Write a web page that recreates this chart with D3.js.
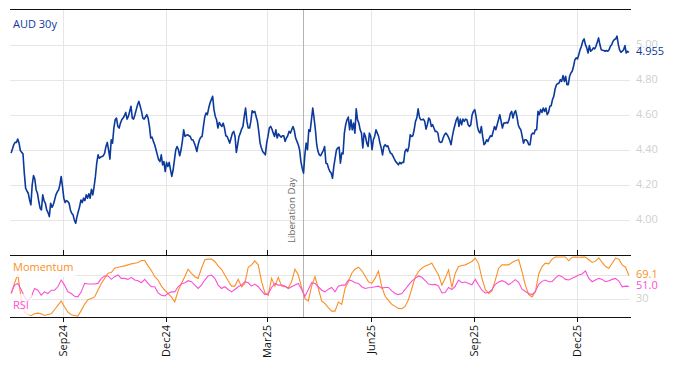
<!DOCTYPE html>
<html>
<head>
<meta charset="utf-8">
<script src="https://cdn.jsdelivr.net/npm/d3@7"></script>
<style>
  html, body { margin: 0; padding: 0; background: #fff; }
  svg { display: block; font-family: "Open Sans", sans-serif; }
</style>
</head>
<body>
<svg id="chart"></svg>
<script>
// first and last observation, points are evenly spread between them
const seriesStart = "2024-07-17";
const seriesEnd = "2026-01-16";

const aud30y = [
  4.381, 4.405, 4.429, 4.442, 4.442, 4.461, 4.438, 4.396, 4.385, 4.377, 4.267, 4.181, 4.165, 4.152, 4.114, 4.086,
  4.200, 4.253, 4.232, 4.171, 4.152, 4.105, 4.067, 4.057, 4.143, 4.110, 4.095, 4.057, 4.042, 4.019, 4.095, 4.072,
  4.086, 4.114, 4.143, 4.160, 4.171, 4.200, 4.248, 4.190, 4.124, 4.099, 4.110, 4.105, 4.095, 4.057, 4.038, 4.029,
  4.000, 3.981, 4.019, 4.048, 4.076, 4.114, 4.099, 4.124, 4.110, 4.143, 4.124, 4.149, 4.124, 4.175, 4.143, 4.190,
  4.248, 4.324, 4.371, 4.352, 4.358, 4.362, 4.366, 4.381, 4.419, 4.442, 4.400,
  4.347, 4.457, 4.438, 4.524, 4.571, 4.581, 4.533, 4.524, 4.552, 4.571, 4.581, 4.594, 4.613, 4.575, 4.590, 4.619,
  4.648, 4.581, 4.575, 4.600, 4.629, 4.657, 4.676, 4.648, 4.619, 4.581, 4.575, 4.587, 4.600, 4.581, 4.533, 4.467,
  4.472, 4.448, 4.429, 4.400, 4.371, 4.343, 4.333, 4.371, 4.314, 4.333, 4.276, 4.328, 4.305, 4.328, 4.286, 4.248,
  4.286, 4.343, 4.400, 4.419, 4.400, 4.366, 4.400, 4.448, 4.514, 4.476, 4.482, 4.486, 4.480, 4.476, 4.457, 4.457,
  4.440, 4.419, 4.390, 4.429, 4.457, 4.472, 4.476, 4.533, 4.587, 4.610, 4.600, 4.638, 4.667, 4.686, 4.705, 4.629,
  4.590, 4.571, 4.524, 4.556, 4.543, 4.533, 4.552, 4.524, 4.480, 4.476, 4.457, 4.438, 4.467, 4.495, 4.505, 4.476,
  4.385, 4.429, 4.476, 4.495, 4.518, 4.533, 4.590, 4.638, 4.562, 4.524, 4.524, 4.562, 4.623, 4.613, 4.619, 4.590,
  4.562, 4.505, 4.438, 4.410, 4.390, 4.381, 4.371, 4.438, 4.476, 4.524, 4.533, 4.518, 4.495, 4.476, 4.514, 4.467,
  4.491, 4.480, 4.472, 4.480, 4.480, 4.448, 4.467, 4.480, 4.505, 4.495, 4.514, 4.533, 4.510, 4.467, 4.448, 4.429,
  4.400, 4.333, 4.295, 4.267, 4.371, 4.438, 4.400, 4.514, 4.505, 4.571, 4.638, 4.581, 4.514, 4.429, 4.390,
  4.371, 4.366, 4.381, 4.396, 4.419, 4.324, 4.320, 4.295, 4.276, 4.267, 4.238, 4.305, 4.352, 4.400, 4.410, 4.415,
  4.324, 4.381, 4.377, 4.495, 4.543, 4.571, 4.587, 4.514, 4.571, 4.514, 4.552, 4.495, 4.634, 4.571, 4.552, 4.514,
  4.495, 4.410, 4.495, 4.476, 4.438, 4.419, 4.495, 4.476, 4.400, 4.457, 4.476, 4.514, 4.495, 4.476, 4.438, 4.410,
  4.371, 4.419, 4.429, 4.419, 4.423, 4.400, 4.381, 4.377, 4.362, 4.347, 4.333, 4.324, 4.314, 4.328, 4.320, 4.328,
  4.328, 4.390, 4.404, 4.390, 4.419, 4.486, 4.476, 4.480, 4.514, 4.562, 4.581, 4.634, 4.587, 4.571, 4.571,
  4.575, 4.562, 4.518, 4.543, 4.581, 4.571, 4.533, 4.543, 4.524, 4.505, 4.505, 4.495, 4.448, 4.442, 4.444, 4.467,
  4.486, 4.495, 4.486, 4.472, 4.453, 4.429, 4.476, 4.514, 4.543, 4.571, 4.587, 4.533, 4.575, 4.543, 4.575, 4.562,
  4.575, 4.571, 4.543, 4.533, 4.543, 4.600, 4.619, 4.629, 4.590, 4.533, 4.505, 4.495, 4.533, 4.476, 4.429, 4.438,
  4.457, 4.448, 4.467, 4.480, 4.476, 4.505, 4.533, 4.514, 4.543, 4.571, 4.600, 4.562, 4.524, 4.552, 4.552, 4.556,
  4.552, 4.571, 4.606, 4.619, 4.581, 4.610, 4.623, 4.590, 4.543, 4.524, 4.514, 4.476, 4.438, 4.457,
  4.457, 4.448, 4.429, 4.429, 4.486, 4.495, 4.491, 4.514, 4.514, 4.619, 4.600, 4.629, 4.613, 4.638, 4.619, 4.638,
  4.600, 4.613, 4.648, 4.651, 4.686, 4.705, 4.747, 4.771, 4.777, 4.781, 4.800, 4.790, 4.823, 4.790, 4.819, 4.771,
  4.771, 4.819, 4.838, 4.848, 4.876, 4.914, 4.924, 4.918, 4.943, 4.971, 4.990, 5.019, 5.032, 5.000, 4.981, 4.952,
  4.994, 4.962, 4.968, 4.981, 4.975, 4.990, 5.013, 5.038, 5.000, 4.971, 4.968, 4.966, 4.962, 4.966, 4.962, 4.971,
  4.990, 5.000, 5.019, 5.029, 5.032, 5.048, 5.000, 4.968, 4.956, 4.962, 4.971, 4.994, 4.952, 4.962, 4.955,
];

const momentum = [
  39.1, 56.0, 71.7, 30.7, 8.2, 4.2, 2.5, 5.3, 6.5, 5.3, 2.5, 4.2, 5.3, 12.1, 19.4, 26.7, 16.6, 8.2, 3.7, 2.5,
  1.4, 11.0, 21.1, 29.0, 30.7, 33.5, 44.7, 56.0, 64.4, 72.9, 74.0, 81.3, 83.0, 84.1, 85.2, 86.9, 88.6, 89.7, 90.9, 94.2,
  94.2, 85.2, 77.4, 67.2, 61.6, 51.5, 44.7, 39.1, 33.5, 25.0, 43.6, 56.0, 67.2, 79.6, 72.9, 67.2, 64.4, 81.3, 95.4, 96.5,
  96.5, 92.5, 85.2, 79.6, 70.0, 60.5, 51.5, 51.5, 62.7, 50.4, 56.0, 83.0, 86.9, 93.7, 86.9, 58.8, 40.2, 36.3, 64.4, 51.5,
  66.1, 51.5, 50.4, 48.7, 58.8, 79.6, 70.0, 49.2, 30.7, 26.7, 51.5, 67.2, 47.5, 26.7, 22.2, 15.5,
  9.8, 9.8, 25.0, 21.1, 47.5, 58.8, 72.9, 79.6, 83.0, 77.4, 68.4, 58.8, 56.0, 64.4, 76.8, 50.4, 34.6, 27.8, 21.1, 17.7,
  14.3, 13.8, 17.7, 29.0, 47.5, 66.1, 75.7, 81.3, 85.2, 86.9, 89.7, 79.6, 70.0, 53.2, 64.4, 78.5, 49.2, 72.9, 84.1, 85.8,
  86.9, 89.7, 92.5, 98.2, 88.6, 64.4, 45.9, 39.1, 43.6, 61.6, 81.3, 86.9, 86.9, 86.9, 90.9, 93.7, 95.4, 75.7, 53.2, 37.4,
  33.5, 41.9, 71.7, 84.1, 89.7, 88.6, 96.5, 99.8, 100, 100, 100, 93.7, 99.7, 100, 99.7, 100, 99.8, 95.4, 90.9, 93.1,
  98.6, 90.9, 84.1, 81.3, 89.7, 98.2, 96.5, 86.9, 83.0, 69.1,
];

const rsi = [
  39.1, 53.2, 56.0, 45.9, 33.5, 26.7, 33.5, 47.5, 44.7, 36.3, 41.9, 39.1, 44.7, 44.7, 50.4, 61.6, 53.2, 41.9, 39.1, 34.6,
  33.5, 41.9, 56.0, 54.9, 54.9, 54.9, 56.0, 64.4, 68.4, 68.4, 62.7, 67.2, 70.0, 64.4, 64.4, 62.7, 66.1, 61.6, 60.5, 57.1,
  62.7, 56.0, 50.4, 50.4, 40.2, 36.3, 35.2, 39.1, 41.9, 41.9, 50.4, 54.9, 57.1, 60.5, 58.8, 53.2, 47.5, 53.2, 61.6, 68.4,
  70.0, 64.4, 53.2, 47.5, 50.4, 45.9, 41.9, 45.9, 50.4, 53.2, 58.8, 57.1, 51.5, 54.9, 50.4, 43.6, 37.4, 39.1, 49.2, 56.0,
  53.2, 53.2, 51.5, 47.5, 50.4, 53.2, 56.0, 45.9, 34.6, 45.9, 57.1, 56.0, 50.4, 44.7, 41.9, 46.4,
  49.2, 41.9, 51.5, 53.2, 53.2, 61.6, 60.5, 57.1, 56.0, 50.4, 47.5, 48.7, 49.2, 50.4, 51.5, 48.1, 49.2, 49.2, 43.6, 39.1,
  37.4, 39.1, 45.9, 53.2, 59.9, 64.4, 68.4, 66.1, 60.5, 54.9, 53.7, 54.3, 51.5, 40.2, 40.8, 49.2, 45.9, 51.5, 61.6, 57.1,
  58.2, 56.0, 53.7, 62.7, 53.2, 44.7, 40.2, 40.8, 45.9, 54.3, 58.2, 60.5, 58.2, 53.7, 57.7, 62.2, 57.7, 46.4, 42.5, 39.1,
  37.4, 42.5, 54.3, 59.4, 61.6, 58.8, 58.8, 64.9, 69.5, 67.2, 62.7, 61.6, 64.4, 67.2, 70.0, 71.7, 76.8, 64.4, 58.8, 61.6,
  64.4, 62.7, 58.8, 60.5, 62.7, 64.4, 59.9, 50.4, 51.5, 51.0,
];

const priceTicks = [4.0, 4.2, 4.4, 4.6, 4.8, 5.0];
const oscGrid = [30, 70];
const oscLabels = [30];
const monthTicks = ["2024-09-01", "2024-12-01", "2025-03-01", "2025-06-01", "2025-09-01", "2025-12-01"];
const events = [{ date: "2025-04-02", label: "Liberation Day" }];

const colors = {
  price: "#0b399c",
  momentum: "#fb8f24",
  rsi: "#fb4fd6",
  grid: "#e6e6e6",
  axisText: "#cfcfcf",
  event: "#b4b4b4",
};

const width = 674;
const height = 366;
const plot = { left: 10, right: 630, top: 9, mid: 255, bottom: 317 };

const svg = d3.select("#chart").attr("width", width).attr("height", height);
const parse = d3.utcParse("%Y-%m-%d");

function spreadDates(n) {
  const t0 = +parse(seriesStart);
  const t1 = +parse(seriesEnd);
  return d3.range(n).map((i) => new Date(t0 + (i * (t1 - t0)) / (n - 1)));
}

const x = d3.scaleUtc()
  .domain([parse("2024-07-16"), parse("2026-01-17")])
  .range([plot.left, plot.right]);
const yPrice = d3.scaleLinear().domain([3.8, 5.2]).range([plot.mid, plot.top + 0.5]);
const yOsc = d3.scaleLinear().domain([0, 100]).range([plot.bottom, plot.mid + 2]);

const priceData = spreadDates(aud30y.length).map((d, i) => ({ date: d, value: aud30y[i] }));
const momData = spreadDates(momentum.length).map((d, i) => ({ date: d, value: momentum[i] }));
const rsiData = spreadDates(rsi.length).map((d, i) => ({ date: d, value: rsi[i] }));
const tickDates = monthTicks.map(parse);

const gridLayer = svg.append("g");
const eventLayer = svg.append("g");
const lineLayer = svg.append("g");
const labelLayer = svg.append("g");
const axisLayer = svg.append("g");

// grid
gridLayer.selectAll("line.h")
  .data(priceTicks)
  .join("line")
  .attr("class", "h")
  .attr("x1", plot.left).attr("x2", plot.right)
  .attr("y1", (d) => Math.round(yPrice(d)) + 0.5)
  .attr("y2", (d) => Math.round(yPrice(d)) + 0.5)
  .attr("stroke", colors.grid);

gridLayer.selectAll("line.o")
  .data(oscGrid)
  .join("line")
  .attr("class", "o")
  .attr("x1", plot.left).attr("x2", plot.right)
  .attr("y1", (d) => Math.round(yOsc(d)) + 0.5)
  .attr("y2", (d) => Math.round(yOsc(d)) + 0.5)
  .attr("stroke", colors.grid);

gridLayer.selectAll("line.v")
  .data(tickDates)
  .join("line")
  .attr("class", "v")
  .attr("x1", (d) => Math.round(x(d)) + 0.5)
  .attr("x2", (d) => Math.round(x(d)) + 0.5)
  .attr("y1", plot.top).attr("y2", plot.bottom)
  .attr("stroke", colors.grid);

// event marker
events.forEach((ev) => {
  const ex = Math.round(x(parse(ev.date))) + 0.5;
  eventLayer.append("line")
    .attr("x1", ex).attr("x2", ex)
    .attr("y1", plot.top).attr("y2", plot.bottom)
    .attr("stroke", colors.event);
  eventLayer.append("text")
    .attr("transform", `translate(${ex - 9},${plot.mid - 12}) rotate(-90)`)
    .attr("font-size", 9.7)
    .attr("fill", "#6b6b6b")
    .text(ev.label);
});

// lines
const priceLine = d3.line().x((d) => x(d.date)).y((d) => yPrice(d.value));
const oscLine = d3.line().x((d) => x(d.date)).y((d) => yOsc(d.value));

lineLayer.append("path")
  .datum(momData)
  .attr("d", oscLine)
  .attr("fill", "none")
  .attr("stroke", colors.momentum)
  .attr("stroke-width", 1.1);

lineLayer.append("path")
  .datum(rsiData)
  .attr("d", oscLine)
  .attr("fill", "none")
  .attr("stroke", colors.rsi)
  .attr("stroke-width", 1.1);

lineLayer.append("path")
  .datum(priceData)
  .attr("d", priceLine)
  .attr("fill", "none")
  .attr("stroke", colors.price)
  .attr("stroke-width", 1.6)
  .attr("stroke-linejoin", "round");

// panel labels with a light backing
function panelLabel(text, px, py, color, alpha) {
  const g = labelLayer.append("g");
  const t = g.append("text")
    .attr("x", px).attr("y", py)
    .attr("font-size", 11)
    .attr("fill", color)
    .attr("dominant-baseline", "middle")
    .text(text);
  const bb = t.node().getBBox();
  g.insert("rect", "text")
    .attr("x", bb.x - 3).attr("y", bb.y - 3)
    .attr("width", bb.width + 6).attr("height", bb.height + 6)
    .attr("fill", "#fff")
    .attr("fill-opacity", alpha);
}
panelLabel("AUD 30y", 13, 25, colors.price, 1);
panelLabel("Momentum", 13, 268, colors.momentum, 0.85);
panelLabel("RSI", 13, 306, colors.rsi, 0.75);

// right side values
const rightX = plot.right + 6;
axisLayer.selectAll("text.p")
  .data(priceTicks)
  .join("text")
  .attr("class", "p")
  .attr("x", rightX)
  .attr("y", (d) => yPrice(d))
  .attr("dominant-baseline", "middle")
  .attr("font-size", 11)
  .attr("fill", colors.axisText)
  .text((d) => d.toFixed(2));

axisLayer.selectAll("text.o")
  .data(oscLabels)
  .join("text")
  .attr("class", "o")
  .attr("x", rightX)
  .attr("y", (d) => yOsc(d))
  .attr("dominant-baseline", "middle")
  .attr("font-size", 11)
  .attr("fill", colors.axisText)
  .text((d) => d);

const lastValues = [
  { y: yPrice(aud30y[aud30y.length - 1]), text: aud30y[aud30y.length - 1].toFixed(3), color: colors.price },
  { y: yOsc(momentum[momentum.length - 1]), text: momentum[momentum.length - 1].toFixed(1), color: colors.momentum },
  { y: yOsc(rsi[rsi.length - 1]), text: rsi[rsi.length - 1].toFixed(1), color: colors.rsi },
];
axisLayer.selectAll("text.last")
  .data(lastValues)
  .join("text")
  .attr("class", "last")
  .attr("x", rightX)
  .attr("y", (d) => d.y)
  .attr("dominant-baseline", "middle")
  .attr("font-size", 11)
  .attr("fill", (d) => d.color)
  .text((d) => d.text);

// frame lines
[plot.top, plot.mid, plot.bottom].forEach((py) => {
  axisLayer.append("line")
    .attr("x1", plot.left).attr("x2", plot.right + 1)
    .attr("y1", py + 0.5).attr("y2", py + 0.5)
    .attr("stroke", "#111")
    .attr("stroke-width", 1.2);
});

// month ticks and labels
axisLayer.selectAll("line.tu")
  .data(tickDates)
  .join("line")
  .attr("class", "tu")
  .attr("x1", (d) => Math.round(x(d)) + 0.5)
  .attr("x2", (d) => Math.round(x(d)) + 0.5)
  .attr("y1", plot.mid - 5).attr("y2", plot.mid)
  .attr("stroke", "#111");

axisLayer.selectAll("line.tb")
  .data(tickDates)
  .join("line")
  .attr("class", "tb")
  .attr("x1", (d) => Math.round(x(d)) + 0.5)
  .attr("x2", (d) => Math.round(x(d)) + 0.5)
  .attr("y1", plot.bottom).attr("y2", plot.bottom + 5)
  .attr("stroke", "#111");

const fmt = d3.utcFormat("%b%y");
axisLayer.selectAll("text.x")
  .data(tickDates)
  .join("text")
  .attr("class", "x")
  .attr("transform", (d) => `translate(${Math.round(x(d)) + 0.5},${plot.bottom + 8}) rotate(-90)`)
  .attr("text-anchor", "end")
  .attr("dy", "0.35em")
  .attr("font-size", 11)
  .attr("fill", "#111")
  .text((d) => fmt(d));
</script>
</body>
</html>
